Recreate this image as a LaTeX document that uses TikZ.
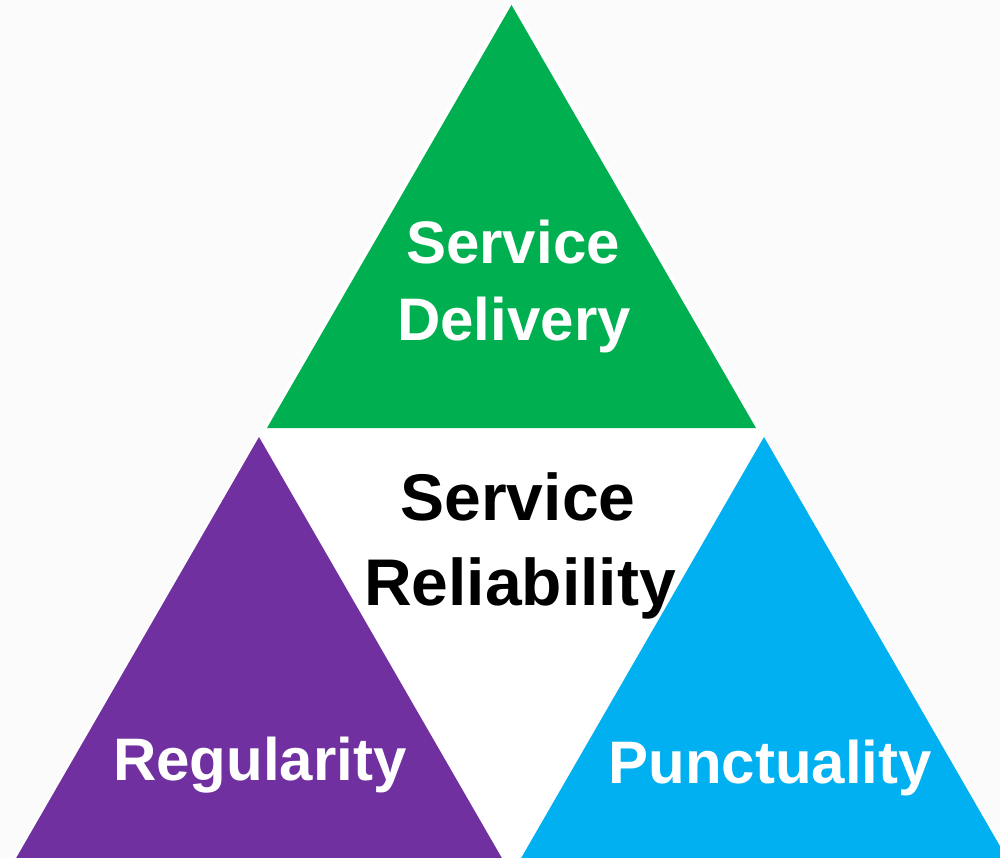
\documentclass[tikz,border=0pt]{standalone}
\usepackage{fontspec}
\setmainfont{Liberation Sans}
\definecolor{bggray}{RGB}{251,251,251}
\definecolor{tgreen}{RGB}{0,176,80}
\definecolor{tpurple}{RGB}{112,48,160}
\definecolor{tblue}{RGB}{0,176,240}
\begin{document}
\begin{tikzpicture}[x=1pt,y=-1pt,
  wlabel/.style={anchor=base,inner sep=0pt,text=white,font=\fontsize{60}{72}\selectfont\bfseries},
  blabel/.style={anchor=base,inner sep=0pt,text=black,font=\fontsize{66}{78}\selectfont\bfseries}]
\useasboundingbox (0,0) rectangle (1000,858);
\fill[bggray] (0,0) rectangle (1000,858);
% outer white triangle
\fill[white] (511.5,-3) -- (10,865) -- (1013,865) -- cycle;
% colored triangles
\fill[tgreen] (511.5,5) -- (267,428) -- (756,428) -- cycle;
\fill[tpurple] (259,437) -- (15,860) -- (503,860) -- cycle;
\fill[tblue] (764,437) -- (520,860) -- (1008,860) -- cycle;
% labels
\node[wlabel] (sd1) at (513,264) {Service};
\node[wlabel] (sd2) at (514,340) {Delivery};
\node[blabel] (sr1) at (518,520) {Service};
\node[blabel] (sr2) at (520,605) {Reliability};
\node[wlabel] (reg) at (260,780) {Regularity};
\node[wlabel] (pun) at (770,783) {Punctuality};
\end{tikzpicture}
\end{document}
